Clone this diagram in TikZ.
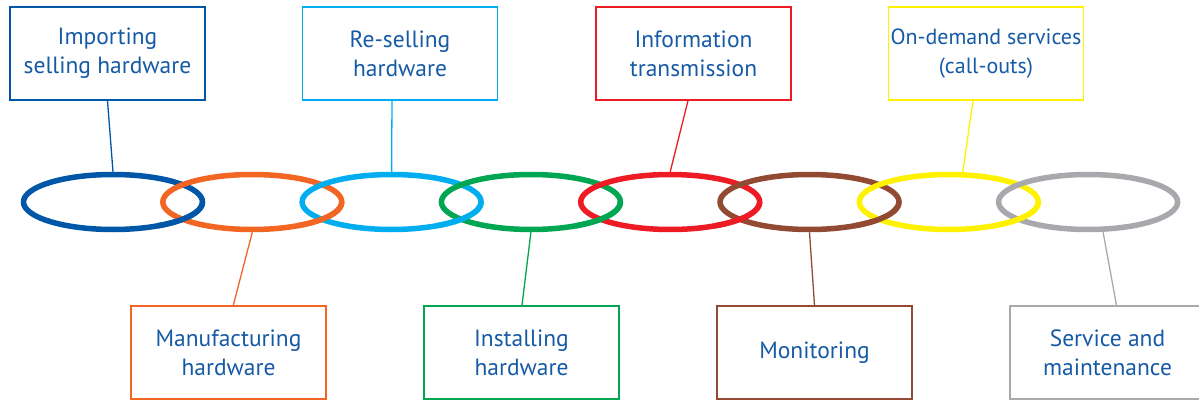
\documentclass[tikz,border=0pt]{standalone}
\usepackage{fontspec}
\setmainfont{PT Sans}
\usetikzlibrary{shapes.geometric,positioning}
\definecolor{cblue}{RGB}{0,87,168}
\definecolor{corange}{RGB}{242,101,34}
\definecolor{csky}{RGB}{0,174,239}
\definecolor{cgreen}{RGB}{0,166,81}
\definecolor{cred}{RGB}{237,28,36}
\definecolor{cbrown}{RGB}{146,75,50}
\definecolor{cyellow}{RGB}{255,242,0}
\definecolor{cgray}{RGB}{167,169,172}
\definecolor{textblue}{RGB}{22,90,166}
\tikzstyle{ring}=[ellipse,draw,line width=5.5pt,minimum width=179pt,minimum height=55pt,inner sep=0pt]
\tikzstyle{box}=[draw,line width=1.4pt,minimum width=195pt,minimum height=93pt,inner xsep=0pt,align=center,text=textblue,font=\fontsize{23.5}{29}\selectfont]
\tikzstyle{link}=[line width=1.3pt]

\begin{document}
\begin{tikzpicture}[x=1pt,y=1pt,node distance=139.3pt]
  \useasboundingbox (0,0) rectangle (1199,-401);

  % boxes
  \node[box,draw=cblue]   (importing) at (107.5,-53.5) {Importing\\selling hardware};
  \node[box,draw=csky]    (reselling) at (400,-53.5)   {Re-selling\\hardware};
  \node[box,draw=cred]    (info)      at (693.5,-53.5) {Information\\transmission};
  \node[box,draw=cyellow,font=\fontsize{22}{29}\selectfont] (ondemand) at (986,-53.5) {On-demand services\\(call-outs)};
  \node[box,draw=corange] (manuf)     at (228.5,-352.5)  {Manufacturing\\hardware};
  \node[box,draw=cgreen]  (install)   at (521.5,-352.5)  {Installing\\hardware};
  \node[box,draw=cbrown]  (monitor)   at (814.5,-352.5)  {Monitoring};
  \node[box,draw=cgray]   (service)   at (1107.5,-352.5) {Service and\\maintenance};

  % rings
  \node[ring,cblue]   (ring1) at (113,-202) {};
  \node[ring,corange] (ring2) [right of=ring1] {};
  \node[ring,csky]    (ring3) [right of=ring2] {};
  \node[ring,cgreen]  (ring4) [right of=ring3] {};
  \node[ring,cred]    (ring5) [right of=ring4] {};
  \node[ring,cbrown]  (ring6) [right of=ring5] {};
  \node[ring,cyellow] (ring7) [right of=ring6] {};
  \node[ring,cgray]   (ring8) [right of=ring7] {};

  % lower right part of each ring goes over the next one
  \foreach \r/\c in {ring1/cblue,ring2/corange,ring3/csky,ring4/cgreen,ring5/cred,ring6/cbrown,ring7/cyellow}
    \draw[\c,line width=5.5pt] ([shift={(300:89.5 and 27.5)}]\r.center) arc[start angle=300,end angle=360,x radius=89.5,y radius=27.5];

  % connectors
  \draw[link,cblue]   (importing.south) -- (ring1.north);
  \draw[link,csky]    ([xshift=-8pt]reselling.south) -- (ring3.north);
  \draw[link,cred]    ([xshift=-5.5pt]info.south) -- (ring5.north);
  \draw[link,cyellow] ([xshift=-13pt]ondemand.south) -- ([xshift=14pt]ring7.north);
  \draw[link,corange] (ring2.south) -- ([xshift=4.8pt]manuf.north);
  \draw[link,cgreen]  (ring4.south) -- ([xshift=0.5pt]install.north);
  \draw[link,cbrown]  (ring6.south) -- (monitor.north);
  \draw[link,cgray]   ([xshift=15pt]ring8.south) -- ([xshift=9pt]service.north);
\end{tikzpicture}
\end{document}
